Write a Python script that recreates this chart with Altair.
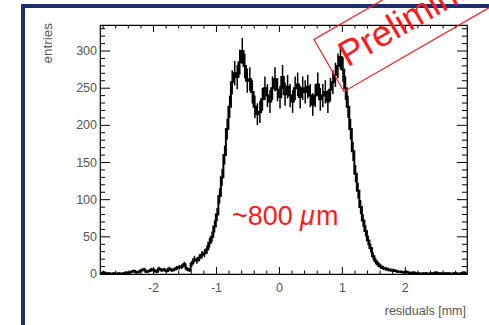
import altair as alt
import numpy as np
import pandas as pd

# ---------------- data ----------------
bin_start = -2.85
bin_width = 0.04
counts = [
    1, 2, 1, 1, 0, 1, 0, 1, 0, 1,
    2, 1, 3, 4, 2, 3, 5, 6, 3, 4,
    6, 5, 3, 7, 5, 6, 4, 7, 5, 6,
    8, 9, 10, 13, 7, 5, 14, 20, 18, 22,
    26, 28, 33, 42, 50, 64, 80, 105, 130, 160,
    195, 225, 258, 270, 265, 285, 300, 280, 260, 262,
    245, 225, 215, 218, 235, 250, 240, 232, 250, 262,
    248, 238, 265, 242, 252, 240, 232, 250, 255, 238,
    250, 245, 252, 240, 228, 240, 255, 235, 240, 245,
    232, 248, 258, 268, 280, 292, 275, 250, 225, 195,
    165, 135, 112, 90, 72, 58, 45, 35, 24, 17,
    13, 10, 8, 7, 6, 5, 5, 4, 3, 3,
    2, 3, 2, 1, 2, 1, 1, 0, 1, 1,
    0, 1, 1, 2, 1, 1, 0, 1, 1, 0,
    1, 1, 0, 1, 2, 1,
]

x_domain = [-2.85, 2.98]
y_domain = [0, 335]
x_major = [-2, -1, 0, 1, 2]
x_major_labels = ["-2", "-1", "0", "1", "2"]
x_minor = [-2.8, -2.6, -2.4, -2.2, -1.8, -1.6, -1.4, -1.2, -0.8, -0.6, -0.4, -0.2,
           0.2, 0.4, 0.6, 0.8, 1.2, 1.4, 1.6, 1.8, 2.2, 2.4, 2.6, 2.8]
y_major = [0, 50, 100, 150, 200, 250, 300]
y_major_labels = ["0", "50", "100", "150", "200", "250", "300"]
y_minor = [10, 20, 30, 40, 60, 70, 80, 90, 110, 120, 130, 140, 160, 170, 180, 190,
           210, 220, 230, 240, 260, 270, 280, 290, 310, 320, 330]
x_title = "residuals [mm]"
y_title = "entries"

# annotation anchors (data coordinates)
res_text_x = [-0.753]
res_text_y = [65.9]
prelim_x = [2.232]
prelim_y = [351.1]

W, H = 367, 249
FONT = "Liberation Sans"
RED = "#ff1a1a"
GREY = "#555555"

centers = bin_start + bin_width * (np.arange(len(counts)) + 0.5)
n = np.array(counts, dtype=float)
err = np.sqrt(n)
hist = pd.DataFrame({"x": centers, "n": n, "lo": n - err, "hi": n + err})
bars = hist[hist["n"] > 0]

xs = alt.Scale(domain=x_domain, nice=False, zero=False)
ys = alt.Scale(domain=y_domain, nice=False, zero=False)
one = pd.DataFrame({"a": [0]})

# outer slide frame
frame = alt.Chart(one).mark_rect(
    filled=False, fillOpacity=0, stroke="#1f2f6e", strokeWidth=4
).encode(x=alt.value(-77), x2=alt.value(520), y=alt.value(-19), y2=alt.value(420))

line = alt.Chart(hist).mark_line(
    interpolate="step", color="black", strokeWidth=2, clip=True
).encode(
    x=alt.X("x:Q", scale=xs, axis=None),
    y=alt.Y("n:Q", scale=ys, axis=None),
)

errbars = alt.Chart(bars).mark_rule(color="black", strokeWidth=1.5, clip=True).encode(
    x=alt.X("x:Q", scale=xs, axis=None),
    y=alt.Y("lo:Q", scale=ys, axis=None),
    y2="hi:Q",
)

def xticks(vals, length):
    d = pd.DataFrame({"v": vals})
    b = alt.Chart(d).mark_rule(color="black", strokeWidth=1).encode(
        x=alt.X("v:Q", scale=xs, axis=None), y=alt.value(H), y2=alt.value(H - length))
    t = alt.Chart(d).mark_rule(color="black", strokeWidth=1).encode(
        x=alt.X("v:Q", scale=xs, axis=None), y=alt.value(0), y2=alt.value(length))
    return b + t

def yticks(vals, length):
    d = pd.DataFrame({"v": vals})
    l = alt.Chart(d).mark_rule(color="black", strokeWidth=1).encode(
        y=alt.Y("v:Q", scale=ys, axis=None), x=alt.value(0), x2=alt.value(length))
    r = alt.Chart(d).mark_rule(color="black", strokeWidth=1).encode(
        y=alt.Y("v:Q", scale=ys, axis=None), x=alt.value(W), x2=alt.value(W - length))
    return l + r

ticks = xticks(x_major, 7) + xticks(x_minor, 3.5) + yticks(y_major, 10) + yticks(y_minor, 5)

# tick labels
xl = alt.Chart(pd.DataFrame({"v": x_major, "t": x_major_labels})).mark_text(
    baseline="top", align="center", fontSize=12.5, font=FONT, color=GREY, dy=0
).encode(x=alt.X("v:Q", scale=xs, axis=None), y=alt.value(H + 8), text="t:N")
yl = alt.Chart(pd.DataFrame({"v": y_major, "t": y_major_labels})).mark_text(
    baseline="middle", align="right", fontSize=12.5, font=FONT, color=GREY
).encode(y=alt.Y("v:Q", scale=ys, axis=None), x=alt.value(-3), text="t:N")

# axis titles
xt = alt.Chart(one).mark_text(
    text=x_title, align="right", baseline="middle", fontSize=12.5, font=FONT, color=GREY
).encode(x=alt.value(W - 1), y=alt.value(H + 37))
yt = alt.Chart(one).mark_text(
    text=y_title, align="right", baseline="middle", angle=270, fontSize=13.5,
    font=FONT, color=GREY
).encode(x=alt.value(-52), y=alt.value(-2))

res_df = pd.DataFrame({"x": res_text_x, "y": res_text_y})
res_base = alt.Chart(res_df).encode(
    x=alt.X("x:Q", scale=xs, axis=None), y=alt.Y("y:Q", scale=ys, axis=None))
t1 = res_base.mark_text(text="~800", align="left", baseline="alphabetic",
                        fontSize=27, font=FONT, color=RED)
t2 = res_base.mark_text(text="\u03bc", align="left", baseline="alphabetic", dx=68,
                        fontSize=27, font=FONT, fontStyle="italic", color=RED)
t3 = res_base.mark_text(text="m", align="left", baseline="alphabetic", dx=84,
                        fontSize=27, font=FONT, color=RED)

pre_df = pd.DataFrame({"x": prelim_x, "y": prelim_y})
pre_base = alt.Chart(pre_df).encode(
    x=alt.X("x:Q", scale=xs, axis=None), y=alt.Y("y:Q", scale=ys, axis=None))
pre_box = pre_base.mark_point(
    shape="M-1,-0.2857L1,-0.2857L1,0.2857L-1,0.2857Z", size=44100, angle=330,
    filled=False, stroke=RED, strokeWidth=1.2, opacity=1)
pre_text = pre_base.mark_text(text="Preliminary", angle=330, fontSize=36, font=FONT,
                              color=RED, align="center", baseline="middle")

chart = alt.layer(
    frame, line, errbars, ticks, xl, yl, xt, yt, t1, t2, t3, pre_box, pre_text
).properties(
    width=W, height=H,
    padding={"left": 100, "top": 25, "right": 22, "bottom": 51},
    autosize=alt.AutoSizeParams(type="none"),
    background="white",
).configure_view(stroke="black", strokeWidth=1.2)

chart.save("out.html", embed_options={"renderer": "svg", "actions": False})
